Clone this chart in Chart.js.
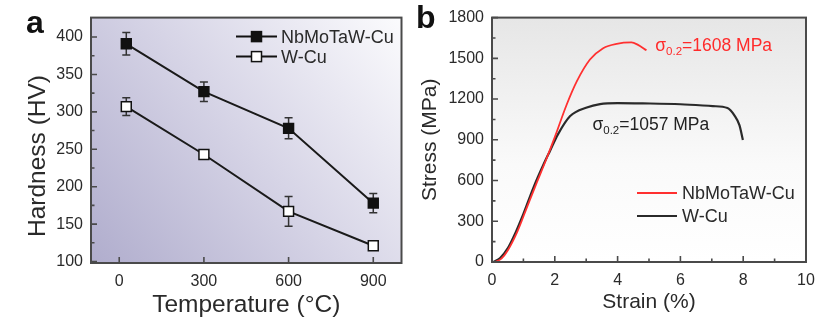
<!DOCTYPE html>
<html>
<head>
<meta charset="utf-8">
<script src="https://cdn.jsdelivr.net/npm/chart.js@4/dist/chart.umd.min.js"></script>
<style>
  html, body { margin: 0; padding: 0; background: #ffffff; }
  #wrap { position: relative; width: 831px; height: 336px; overflow: hidden; background: #fff; }
  #ca { position: absolute; left: 0; top: 0; }
  #cb { position: absolute; left: 410px; top: 0; }
</style>
</head>
<body>
<div id="wrap">
  <canvas id="ca" width="410" height="336"></canvas>
  <canvas id="cb" width="421" height="336"></canvas>
</div>
<script>
// ---------- Panel a data ----------
const seriesNames = ['NbMoTaW-Cu', 'W-Cu'];
const tempC = [25, 300, 600, 900];
const hardNb = [391, 327, 278, 178];
const errNb = [15, 13, 14, 13];
const hardW = [307, 243, 167, 121];
const errW = [12, 6, 20, 3];
const tempTicks = [0, 300, 600, 900];
const hardTicks = [100, 150, 200, 250, 300, 350, 400];
const hardMinor = [125, 175, 225, 275, 325, 375];

// ---------- Panel b data ----------
const nbStrain = [0.1, 0.3, 0.5, 0.8, 1.1, 1.4, 1.7, 2.0, 2.38, 2.70, 3.12, 3.54, 3.97, 4.44, 4.65, 4.92];
const nbStress = [0, 25, 85, 220, 395, 570, 740, 920, 1160, 1330, 1491, 1575, 1607, 1617, 1599, 1559];
const wStrain = [0.05, 0.26, 0.5, 0.69, 1.0, 1.32, 1.64, 1.85, 2.1, 2.49, 3.02, 3.44, 4.0, 4.8, 6.0, 7.03, 7.5, 7.72, 7.88, 7.99];
const wStress = [0, 29, 100, 186, 355, 548, 718, 820, 940, 1075, 1138, 1163, 1170, 1168, 1162, 1148, 1134, 1080, 1008, 899];
const strainTicks = [0, 2, 4, 6, 8, 10];
const strainMinor = [1, 3, 5, 7, 9];
const stressTicks = [0, 300, 600, 900, 1200, 1500, 1800];
const stressMinor = [150, 450, 750, 1050, 1350, 1650];
const yieldLabels = ['1608', '1057'];
const yieldPos = [[5.2, 1553], [3.2, 971]];

const FONT = '"Liberation Sans", Arial, Helvetica, sans-serif';
const AXIS = '#4a4a4a';
const TXT = '#2a2a2a';

function toXY(xs, ys) { return xs.map((x, i) => ({ x: x, y: ys[i] })); }
const plain = v => String(v);

// frame + inward ticks plugin
function frameTicks(xMajor, xMinor, yMajor, yMinor) {
  return {
    id: 'frameTicks',
    afterDatasetsDraw(chart) {
      const { ctx, chartArea: a, scales } = chart;
      const xs = scales.x, ys = scales.y;
      ctx.save();
      ctx.strokeStyle = AXIS;
      ctx.lineWidth = 1.6;
      ctx.beginPath();
      xMajor.forEach(v => { const p = xs.getPixelForValue(v); ctx.moveTo(p, a.bottom); ctx.lineTo(p, a.bottom - 6); });
      xMinor.forEach(v => { const p = xs.getPixelForValue(v); ctx.moveTo(p, a.bottom); ctx.lineTo(p, a.bottom - 3.5); });
      yMajor.forEach(v => { const p = ys.getPixelForValue(v); ctx.moveTo(a.left, p); ctx.lineTo(a.left + 6, p); });
      yMinor.forEach(v => { const p = ys.getPixelForValue(v); ctx.moveTo(a.left, p); ctx.lineTo(a.left + 3.5, p); });
      ctx.stroke();
      ctx.lineWidth = 2;
      ctx.strokeRect(a.left, a.top, a.right - a.left, a.bottom - a.top);
      ctx.restore();
    }
  };
}

function drawSquare(ctx, x, y, filled) {
  ctx.save();
  ctx.fillStyle = filled ? '#111' : '#fff';
  ctx.strokeStyle = '#111';
  ctx.lineWidth = 1.5;
  ctx.fillRect(x - 5, y - 5, 10, 10);
  ctx.strokeRect(x - 5, y - 5, 10, 10);
  ctx.restore();
}

// ---------- Chart a ----------
const bgA = {
  id: 'bgA',
  beforeDraw(chart) {
    const { ctx, chartArea: a } = chart;
    const g = ctx.createLinearGradient(a.left, a.bottom, a.right, a.top);
    g.addColorStop(0, '#b0adcd');
    g.addColorStop(0.5, '#d6d4e6');
    g.addColorStop(1, '#fbfbfd');
    ctx.save();
    ctx.fillStyle = g;
    ctx.fillRect(a.left, a.top, a.right - a.left, a.bottom - a.top);
    ctx.restore();
  }
};

const errBars = {
  id: 'errBars',
  beforeDatasetsDraw(chart) {
    const { ctx, scales } = chart;
    const xs = scales.x, ys = scales.y;
    const sets = [[hardNb, errNb], [hardW, errW]];
    ctx.save();
    ctx.strokeStyle = '#333';
    ctx.lineWidth = 1.5;
    sets.forEach(([vals, errs]) => {
      vals.forEach((v, i) => {
        const px = xs.getPixelForValue(tempC[i]);
        const t = ys.getPixelForValue(v + errs[i]);
        const b = ys.getPixelForValue(v - errs[i]);
        ctx.beginPath();
        ctx.moveTo(px, t); ctx.lineTo(px, b);
        ctx.moveTo(px - 4, t); ctx.lineTo(px + 4, t);
        ctx.moveTo(px - 4, b); ctx.lineTo(px + 4, b);
        ctx.stroke();
      });
    });
    ctx.restore();
  }
};

const decoA = {
  id: 'decoA',
  afterDraw(chart) {
    const { ctx, chartArea: a } = chart;
    ctx.save();
    // legend
    const rows = [[seriesNames[0], true, a.top + 19], [seriesNames[1], false, a.top + 39]];
    rows.forEach(([name, filled, y]) => {
      ctx.strokeStyle = '#111';
      ctx.lineWidth = 2;
      ctx.beginPath(); ctx.moveTo(236, y); ctx.lineTo(277, y); ctx.stroke();
      drawSquare(ctx, 256.5, y, filled);
      ctx.fillStyle = TXT;
      ctx.font = '18px ' + FONT;
      ctx.textBaseline = 'middle';
      ctx.textAlign = 'left';
      ctx.fillText(name, 281, y + 1);
    });
    // axis titles
    ctx.fillStyle = TXT;
    ctx.font = '24.5px ' + FONT;
    ctx.textAlign = 'center';
    ctx.textBaseline = 'middle';
    ctx.fillText('Temperature (°C)', (a.left + a.right) / 2, 305);
    ctx.save();
    ctx.translate(38, 156);
    ctx.rotate(-Math.PI / 2);
    ctx.fillText('Hardness (HV)', 0, 0);
    ctx.restore();
    // panel letter
    ctx.font = 'bold 32px ' + FONT;
    ctx.textAlign = 'left';
    ctx.textBaseline = 'alphabetic';
    ctx.fillStyle = '#111';
    ctx.fillText('a', 26, 33);
    ctx.restore();
  }
};

new Chart(document.getElementById('ca'), {
  type: 'line',
  data: {
    datasets: [
      {
        label: seriesNames[0],
        data: toXY(tempC, hardNb),
        borderColor: '#1a1a1a',
        borderWidth: 2,
        pointStyle: 'rect',
        pointRadius: 7,
        pointBackgroundColor: '#111',
        pointBorderColor: '#111',
        pointBorderWidth: 1.5,
        tension: 0
      },
      {
        label: seriesNames[1],
        data: toXY(tempC, hardW),
        borderColor: '#1a1a1a',
        borderWidth: 2,
        pointStyle: 'rect',
        pointRadius: 7,
        pointBackgroundColor: '#fff',
        pointBorderColor: '#111',
        pointBorderWidth: 1.5,
        tension: 0
      }
    ]
  },
  options: {
    responsive: false,
    animation: false,
    events: [],
    layout: { padding: { top: 13, right: 3, left: 0, bottom: 0 } },
    plugins: { legend: { display: false }, tooltip: { enabled: false } },
    scales: {
      x: {
        type: 'linear', min: -100, max: 1000,
        afterBuildTicks: s => { s.ticks = tempTicks.map(v => ({ value: v })); },
        afterFit: s => { s.height = 73; },
        grid: { display: false, drawTicks: false },
        border: { display: false },
        ticks: { padding: 9, color: TXT, callback: plain, font: { family: FONT, size: 16 } }
      },
      y: {
        type: 'linear', min: 98, max: 426,
        afterBuildTicks: s => { s.ticks = hardTicks.map(v => ({ value: v })); },
        afterFit: s => { s.width = 91; },
        grid: { display: false, drawTicks: false },
        border: { display: false },
        ticks: { padding: 8, color: TXT, callback: plain, font: { family: FONT, size: 16 } }
      }
    }
  },
  plugins: [bgA, errBars, frameTicks(tempTicks, [], hardTicks, hardMinor), decoA]
});

// ---------- Chart b ----------
const bgB = {
  id: 'bgB',
  beforeDraw(chart) {
    const { ctx, chartArea: a } = chart;
    const g = ctx.createLinearGradient(0, a.top, 0, a.bottom);
    g.addColorStop(0, '#e6e6e6');
    g.addColorStop(0.6, '#fafafa');
    g.addColorStop(1, '#ffffff');
    ctx.save();
    ctx.fillStyle = g;
    ctx.fillRect(a.left, a.top, a.right - a.left, a.bottom - a.top);
    ctx.restore();
  }
};

function drawSigma(ctx, x, y, val, color) {
  ctx.fillStyle = color;
  ctx.textAlign = 'left';
  ctx.textBaseline = 'alphabetic';
  ctx.font = '17.5px ' + FONT;
  ctx.fillText('σ', x, y);
  let w = ctx.measureText('σ').width;
  ctx.font = '11.5px ' + FONT;
  ctx.fillText('0.2', x + w, y + 4);
  w += ctx.measureText('0.2').width;
  ctx.font = '17.5px ' + FONT;
  ctx.fillText('=' + val + ' MPa', x + w, y);
}

const decoB = {
  id: 'decoB',
  afterDraw(chart) {
    const { ctx, chartArea: a, scales } = chart;
    ctx.save();
    // annotations
    const cols = ['#ff2a2a', '#222'];
    yieldLabels.forEach((v, i) => {
      drawSigma(ctx, scales.x.getPixelForValue(yieldPos[i][0]), scales.y.getPixelForValue(yieldPos[i][1]), v, cols[i]);
    });
    // legend
    const rows = [[seriesNames[0], '#ff3030', 1.8, 193], [seriesNames[1], '#2a2a2a', 2.2, 216]];
    rows.forEach(([name, c, lw, y]) => {
      ctx.strokeStyle = c;
      ctx.lineWidth = lw;
      ctx.beginPath(); ctx.moveTo(637 - 410, y); ctx.lineTo(677 - 410, y); ctx.stroke();
      ctx.fillStyle = TXT;
      ctx.font = '18px ' + FONT;
      ctx.textBaseline = 'middle';
      ctx.textAlign = 'left';
      ctx.fillText(name, 682 - 410, y + 1);
    });
    // axis titles
    ctx.fillStyle = TXT;
    ctx.font = '21px ' + FONT;
    ctx.textAlign = 'center';
    ctx.textBaseline = 'middle';
    ctx.fillText('Strain (%)', (a.left + a.right) / 2, 302);
    ctx.save();
    ctx.translate(20, (a.top + a.bottom) / 2);
    ctx.rotate(-Math.PI / 2);
    ctx.fillText('Stress (MPa)', 0, 0);
    ctx.restore();
    // panel letter
    ctx.font = 'bold 32px ' + FONT;
    ctx.textAlign = 'left';
    ctx.textBaseline = 'alphabetic';
    ctx.fillStyle = '#111';
    ctx.fillText('b', 6, 28);
    ctx.restore();
  }
};

new Chart(document.getElementById('cb'), {
  type: 'line',
  data: {
    datasets: [
      {
        label: seriesNames[0],
        data: toXY(nbStrain, nbStress),
        borderColor: '#ff3030',
        borderWidth: 1.8,
        pointRadius: 0,
        cubicInterpolationMode: 'monotone'
      },
      {
        label: seriesNames[1],
        data: toXY(wStrain, wStress),
        borderColor: '#2a2a2a',
        borderWidth: 2.2,
        pointRadius: 0,
        cubicInterpolationMode: 'monotone'
      }
    ]
  },
  options: {
    responsive: false,
    animation: false,
    events: [],
    layout: { padding: { top: 14, right: 25, left: 0, bottom: 0 } },
    plugins: { legend: { display: false }, tooltip: { enabled: false } },
    scales: {
      x: {
        type: 'linear', min: 0, max: 10,
        afterBuildTicks: s => { s.ticks = strainTicks.map(v => ({ value: v })); },
        afterFit: s => { s.height = 74; },
        grid: { display: false, drawTicks: false },
        border: { display: false },
        ticks: { padding: 9, color: TXT, callback: plain, font: { family: FONT, size: 16 } }
      },
      y: {
        type: 'linear', min: 0, max: 1800,
        afterBuildTicks: s => { s.ticks = stressTicks.map(v => ({ value: v })); },
        afterFit: s => { s.width = 82; },
        grid: { display: false, drawTicks: false },
        border: { display: false },
        ticks: { padding: 8, color: TXT, callback: plain, font: { family: FONT, size: 16 } }
      }
    }
  },
  plugins: [bgB, frameTicks(strainTicks, strainMinor, stressTicks, stressMinor), decoB]
});
</script>
</body>
</html>
